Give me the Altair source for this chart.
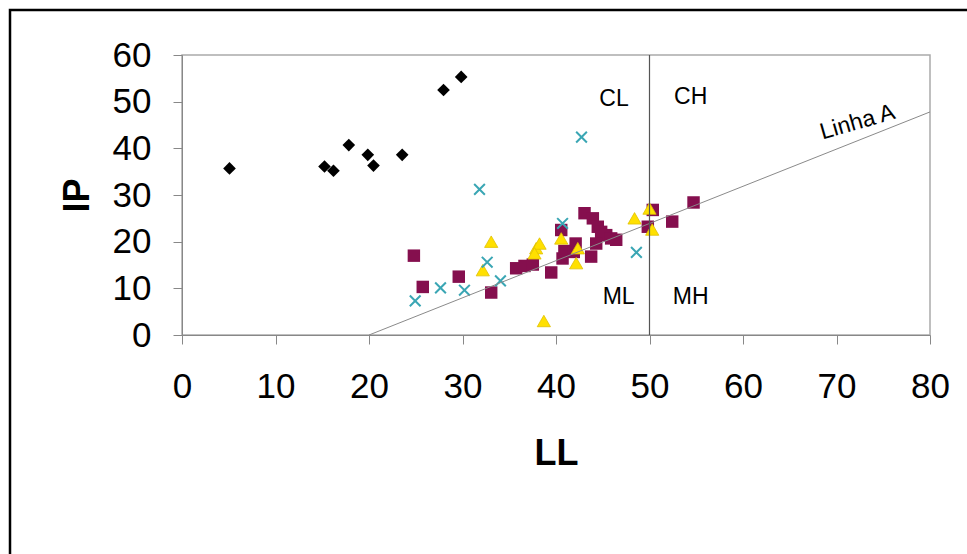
import altair as alt
import pandas as pd

# Black diamonds
dia_ll = [5.08, 15.24, 16.2, 17.84, 19.87, 20.48, 23.55, 27.97, 29.86]
dia_ip = [35.7, 36.1, 35.2, 40.7, 38.6, 36.3, 38.6, 52.5, 55.3]

# Cyan crosses
crs_ll = [24.94, 27.65, 30.21, 31.82, 32.64, 34.06, 40.7, 42.73, 48.6]
crs_ip = [7.3, 10.1, 9.6, 31.2, 15.6, 11.6, 23.9, 42.4, 17.7]

# Maroon squares
sq_ll = [24.8, 25.75, 29.6, 33.07, 35.74, 36.63, 37.52, 39.49, 40.56, 40.7, 40.9,
         41.9, 42.1, 43.05, 43.94, 44.47, 44.83, 45.37, 45.9, 46.44, 44.3, 43.76,
         50.35, 49.82, 52.43, 54.71]
sq_ip = [17.0, 10.3, 12.5, 9.1, 14.3, 14.8, 15.1, 13.4, 22.5, 16.4, 18.0,
         17.8, 19.6, 26.1, 25.0, 23.2, 22.1, 21.4, 20.7, 20.4, 19.6, 16.8,
         26.8, 23.2, 24.3, 28.4]

# Yellow triangles
tri_ll = [33.07, 32.17, 37.88, 38.24, 37.7, 38.7, 40.56, 42.33, 42.16, 48.4, 50.0, 50.29]
tri_ip = [20.0, 13.9, 18.6, 19.6, 17.5, 3.0, 20.7, 18.6, 15.4, 25.0, 27.1, 22.6]

# Linha A and LL = 50 divider
lineA_ll = [20, 80]
lineA_ip = [0, 47.8]
div_ll = [50, 50]
div_ip = [0, 60]

# Zone labels
zone_txt = ["CL", "CH", "ML", "MH"]
zone_ll = [46.2, 54.4, 46.7, 54.4]
zone_ip = [50.6, 51.0, 8.1, 8.1]

x_ticks = [0, 10, 20, 30, 40, 50, 60, 70, 80]
y_ticks = [0, 10, 20, 30, 40, 50, 60]

FONT = "Liberation Sans"

xs = alt.Scale(domain=[0, 80], nice=False, zero=False)
ys = alt.Scale(domain=[0, 60], nice=False, zero=False)

X = alt.X("LL:Q", scale=xs, axis=alt.Axis(
    values=x_ticks, grid=False, labelFlush=False, labelOverlap=False,
    labelFontSize=35, labelFont=FONT, labelColor="black", labelPadding=25,
    tickSize=9, tickColor="#888", domainColor="#888",
    title="LL", titleFont=FONT, titleFontSize=36, titleFontWeight="bold",
    titleColor="black", titleY=118, titleBaseline="middle"))
Y = alt.Y("IP:Q", scale=ys, axis=alt.Axis(
    values=y_ticks, grid=False, labelFlush=False, labelOverlap=False,
    labelFontSize=35, labelFont=FONT, labelColor="black", labelPadding=22,
    tickSize=9, tickColor="#888", domainColor="#888",
    title="IP", titleFont=FONT, titleFontSize=36, titleFontWeight="bold",
    titleColor="black", titleAngle=270, titleX=-105, titleY=140,
    titleBaseline="middle", titleAlign="center"))


def df(ll, ip):
    return pd.DataFrame({"LL": ll, "IP": ip})


border = alt.Chart(pd.DataFrame({"a": [0]})).mark_rect(
    filled=False, stroke="black", strokeWidth=2.5
).encode(x=alt.value(-172), x2=alt.value(820), y=alt.value(-45), y2=alt.value(540))

diamonds = alt.Chart(df(dia_ll, dia_ip)).mark_point(
    shape="diamond", filled=True, color="black", size=160, opacity=1
).encode(x=X, y=Y)

squares = alt.Chart(df(sq_ll, sq_ip)).mark_point(
    shape="square", filled=True, color="#850F4E", size=155, opacity=1
).encode(x=X, y=Y)

triangles = alt.Chart(df(tri_ll, tri_ip)).mark_point(
    shape="triangle-up", filled=True, fill="#FFE000", stroke="#E0C000",
    strokeWidth=0.8, size=175, opacity=1
).encode(x=X, y=Y)

crosses = alt.Chart(df(crs_ll, crs_ip)).mark_point(
    shape="M-1,-1L1,1M-1,1L1,-1", filled=False, color="#3AA6B4",
    strokeWidth=2, size=115, opacity=1
).encode(x=X, y=Y)

line_a = alt.Chart(df(lineA_ll, lineA_ip)).mark_line(
    color="#8a8a8a", strokeWidth=1
).encode(x=X, y=Y)

divider = alt.Chart(df(div_ll, div_ip)).mark_line(
    color="#555555", strokeWidth=1.2
).encode(x=X, y=Y)

zones = alt.Chart(pd.DataFrame({"t": zone_txt, "LL": zone_ll, "IP": zone_ip})).mark_text(
    font=FONT, fontSize=23, color="black", align="center", baseline="middle"
).encode(x=X, y=Y, text="t:N")

linha = alt.Chart(pd.DataFrame({"t": ["Linha A"], "LL": [72.25], "IP": [45.6]})).mark_text(
    font=FONT, fontSize=23, color="black", align="center", baseline="middle", angle=344
).encode(x=X, y=Y, text="t:N")

chart = alt.layer(
    border, diamonds, squares, triangles, crosses, line_a, divider, zones, linha
).properties(
    width=748, height=280,
    padding={"left": 182, "top": 55, "right": 37, "bottom": 219},
    autosize=alt.AutoSizeParams(type="none"),
    background="white",
).configure_view(stroke="#aaaaaa", strokeWidth=1.5)

chart.save("out.html", embed_options={"renderer": "svg", "actions": False})
